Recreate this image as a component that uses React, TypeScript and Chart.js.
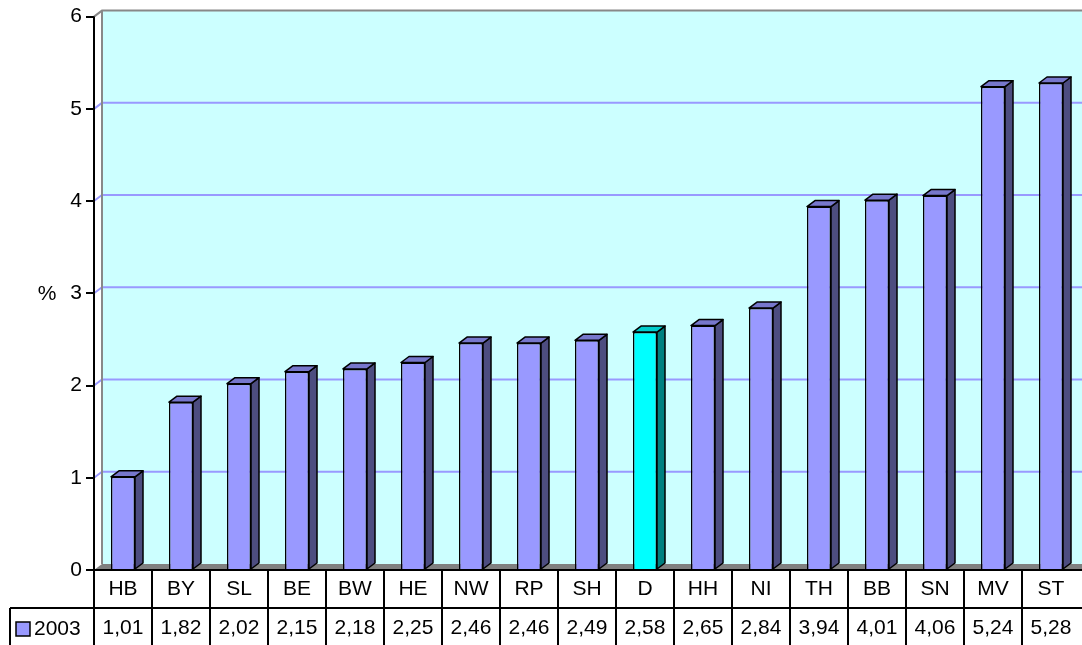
import React, { useEffect, useRef } from "react";
import { Chart, registerables } from "chart.js";

Chart.register(...registerables);

const categories = ["HB", "BY", "SL", "BE", "BW", "HE", "NW", "RP", "SH", "D", "HH", "NI", "TH", "BB", "SN", "MV", "ST"];
const values2003 = [1.01, 1.82, 2.02, 2.15, 2.18, 2.25, 2.46, 2.46, 2.49, 2.58, 2.65, 2.84, 3.94, 4.01, 4.06, 5.24, 5.28];
const valueLabels = ["1,01", "1,82", "2,02", "2,15", "2,18", "2,25", "2,46", "2,46", "2,49", "2,58", "2,65", "2,84", "3,94", "4,01", "4,06", "5,24", "5,28"];
const seriesName = "2003";
const highlightCategory = "D";
const yMin = 0;
const yMax = 6;
const yStep = 1;
const yUnit = "%";

const FONT = "'Liberation Sans', Arial, sans-serif";
const FRONT = "#9999FF";
const SIDE = "#4D4D80";
const TOP = "#7777CC";
const FRONT_H = "#00FFFF";
const SIDE_H = "#008080";
const TOP_H = "#00CCCC";
const DX = 8;
const DY = 6;

const threeD = {
  id: "threeD",
  beforeDatasetsDraw(chart: any) {
    const { ctx, chartArea: a, scales } = chart;
    const y = scales.y;
    const top = y.getPixelForValue(yMax);
    const bot = y.getPixelForValue(yMin);
    const W = chart.width;
    ctx.save();
    ctx.fillStyle = "#CCFFFF";
    ctx.fillRect(a.left + DX, top - DY, W - (a.left + DX), bot - top);
    ctx.strokeStyle = "#9999FF";
    ctx.lineWidth = 2;
    for (let v = yMin + yStep; v < yMax; v += yStep) {
      const py = y.getPixelForValue(v);
      ctx.beginPath();
      ctx.moveTo(a.left, py);
      ctx.lineTo(a.left + DX, py - DY);
      ctx.lineTo(W, py - DY);
      ctx.stroke();
    }
    ctx.strokeStyle = "#888888";
    ctx.beginPath();
    ctx.moveTo(a.left, top);
    ctx.lineTo(a.left + DX, top - DY);
    ctx.lineTo(W, top - DY);
    ctx.moveTo(a.left + DX, top - DY);
    ctx.lineTo(a.left + DX, bot - DY);
    ctx.stroke();
    ctx.fillStyle = "#808080";
    ctx.beginPath();
    ctx.moveTo(a.left, bot);
    ctx.lineTo(a.left + DX, bot - DY);
    ctx.lineTo(W, bot - DY);
    ctx.lineTo(W, bot);
    ctx.closePath();
    ctx.fill();
    ctx.restore();
  },
  afterDatasetsDraw(chart: any) {
    const { ctx } = chart;
    const meta = chart.getDatasetMeta(0);
    ctx.save();
    ctx.lineWidth = 1.5;
    ctx.strokeStyle = "#000";
    ctx.lineJoin = "round";
    meta.data.forEach((bar: any, i: number) => {
      const hl = categories[i] === highlightCategory;
      const l = bar.x - bar.width / 2;
      const r = bar.x + bar.width / 2;
      const t = bar.y;
      const b = bar.base;
      ctx.fillStyle = hl ? SIDE_H : SIDE;
      ctx.beginPath();
      ctx.moveTo(r, t);
      ctx.lineTo(r + DX, t - DY);
      ctx.lineTo(r + DX, b - DY);
      ctx.lineTo(r, b);
      ctx.closePath();
      ctx.fill();
      ctx.stroke();
      ctx.fillStyle = hl ? TOP_H : TOP;
      ctx.beginPath();
      ctx.moveTo(l, t);
      ctx.lineTo(l + DX, t - DY);
      ctx.lineTo(r + DX, t - DY);
      ctx.lineTo(r, t);
      ctx.closePath();
      ctx.fill();
      ctx.stroke();
    });
    ctx.restore();
  },
  afterDraw(chart: any) {
    const { ctx, chartArea: a, scales } = chart;
    const y = scales.y;
    const W = chart.width;
    const H = chart.height;
    const bot = y.getPixelForValue(yMin);
    const row1 = bot + 38;
    const n = categories.length;
    const cw = (a.right - a.left) / n;
    ctx.save();
    ctx.strokeStyle = "#000";
    ctx.lineWidth = 2;
    ctx.beginPath();
    ctx.moveTo(a.left, bot);
    ctx.lineTo(W, bot);
    ctx.moveTo(10, row1);
    ctx.lineTo(W, row1);
    ctx.moveTo(a.left, y.getPixelForValue(yMax));
    ctx.lineTo(a.left, H);
    for (let i = 1; i < n; i++) {
      const x = a.left + i * cw;
      ctx.moveTo(x, bot);
      ctx.lineTo(x, H);
    }
    ctx.moveTo(10, row1);
    ctx.lineTo(10, H);
    ctx.stroke();
    ctx.fillStyle = "#000";
    ctx.font = `21px ${FONT}`;
    ctx.textAlign = "center";
    ctx.textBaseline = "middle";
    for (let i = 0; i < n; i++) {
      const cx = a.left + (i + 0.5) * cw;
      ctx.fillText(categories[i], cx, bot + 19);
      ctx.fillText(valueLabels[i], cx, row1 + 20);
    }
    ctx.fillStyle = FRONT;
    ctx.fillRect(16, row1 + 14, 14, 14);
    ctx.lineWidth = 1.5;
    ctx.strokeRect(16, row1 + 14, 14, 14);
    ctx.fillStyle = "#000";
    ctx.textAlign = "left";
    ctx.fillText(seriesName, 34, row1 + 21);
    ctx.font = `21px ${FONT}`;
    ctx.textAlign = "center";
    ctx.fillText(yUnit, 47, y.getPixelForValue(3) + 1);
    ctx.restore();
  },
};

export default function App() {
  const ref = useRef<HTMLCanvasElement>(null);
  useEffect(() => {
    document.body.style.margin = "0";
    const canvas = ref.current!;
    const chart = new Chart(canvas, {
      type: "bar",
      data: {
        labels: categories,
        datasets: [
          {
            label: seriesName,
            data: values2003,
            backgroundColor: categories.map((c) => (c === highlightCategory ? FRONT_H : FRONT)),
            borderColor: "#000",
            borderWidth: 1.5,
            barPercentage: 0.414,
            categoryPercentage: 1,
          },
        ],
      },
      options: {
        responsive: false,
        animation: false,
        devicePixelRatio: 1,
        layout: { padding: { left: 0, top: 15, right: 2, bottom: 75 } },
        plugins: { legend: { display: false }, tooltip: { enabled: false } },
        scales: {
          x: { display: false },
          y: {
            min: yMin,
            max: yMax,
            ticks: { stepSize: yStep, color: "#000", font: { family: FONT, size: 21 }, padding: 4 },
            grid: { display: true, drawOnChartArea: false, drawTicks: true, tickLength: 8, color: "#000", lineWidth: 2 },
            border: { display: true, color: "#000", width: 2 },
            afterFit: (s: any) => {
              s.width = 94;
            },
          },
        },
      },
      plugins: [threeD],
    });
    return () => chart.destroy();
  }, []);
  return (
    <div style={{ position: "fixed", left: 0, top: 0, width: 1082, height: 645, background: "#fff" }}>
      <canvas ref={ref} width={1082} height={645} />
    </div>
  );
}
